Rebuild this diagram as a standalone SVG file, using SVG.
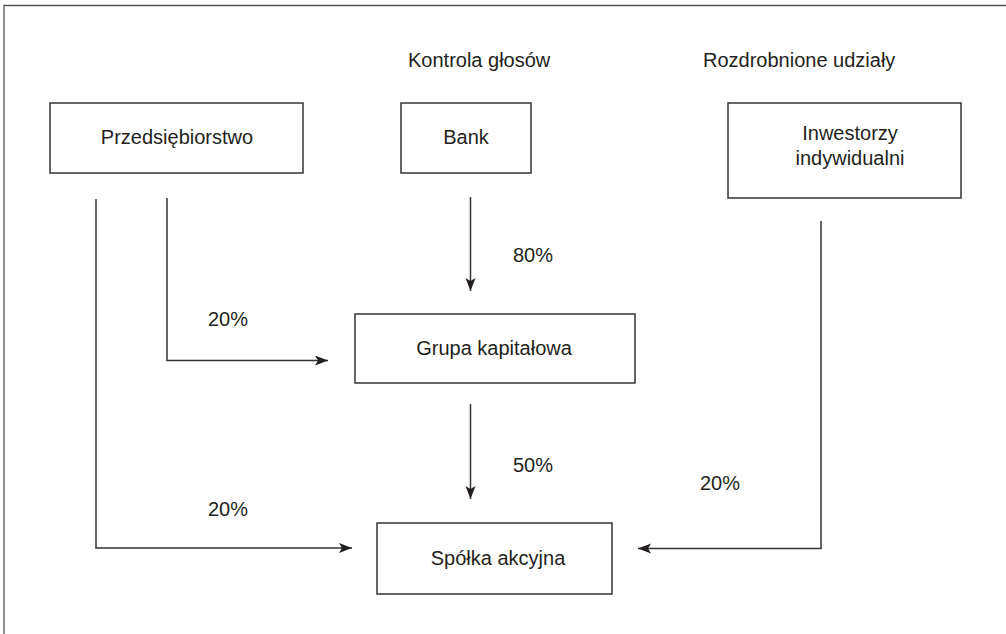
<svg xmlns="http://www.w3.org/2000/svg" width="1006" height="634" viewBox="0 0 1006 634">
<defs>
<style>
.box{fill:#fff;stroke:#333;stroke-width:1.5}
.t{font-family:"Liberation Sans",Arial,sans-serif;font-size:20px;fill:#231f20}
.m{text-anchor:middle}
.c{fill:none;stroke:#333;stroke-width:1.5}
.frame{fill:none;stroke:#555;stroke-width:1.3}
</style>
<marker id="ah" markerUnits="userSpaceOnUse" markerWidth="14" markerHeight="12" refX="13" refY="5" orient="auto">
<path d="M0,0 L13,5 L0,10 L3,5 z" fill="#231f20"/>
</marker>
</defs>
<rect width="1006" height="634" fill="#fff"/>
<path class="frame" d="M4,634 V5.5 H1006"/>
<g id="labels">
<text class="t" x="408" y="67">Kontrola głosów</text>
<text class="t" x="703" y="67">Rozdrobnione udziały</text>
</g>
<g id="przedsiebiorstwo">
<rect class="box" x="50" y="103" width="253" height="70"/>
<text class="t m" x="177" y="144">Przedsiębiorstwo</text>
</g>
<g id="bank">
<rect class="box" x="401" y="103" width="130" height="70"/>
<text class="t m" x="466" y="144">Bank</text>
</g>
<g id="inwestorzy">
<rect class="box" x="728" y="103" width="233" height="95"/>
<text class="t m" x="850" y="140">Inwestorzy</text>
<text class="t m" x="850" y="165">indywidualni</text>
</g>
<g id="grupa">
<rect class="box" x="355" y="314" width="280" height="69"/>
<text class="t m" x="494" y="355">Grupa kapitałowa</text>
</g>
<g id="spolka">
<rect class="box" x="377" y="523" width="235" height="71"/>
<text class="t m" x="498" y="565">Spółka akcyjna</text>
</g>
<g id="connectors">
<path class="c" d="M96,199 V548 H352" marker-end="url(#ah)"/>
<path class="c" d="M167,198 V360.5 H328" marker-end="url(#ah)"/>
<path class="c" d="M470.5,197 V291" marker-end="url(#ah)"/>
<path class="c" d="M470.5,404 V499" marker-end="url(#ah)"/>
<path class="c" d="M821,221 V548.5 H638" marker-end="url(#ah)"/>
<text class="t" x="513" y="262">80%</text>
<text class="t" x="208" y="326">20%</text>
<text class="t" x="513" y="472">50%</text>
<text class="t" x="700" y="490">20%</text>
<text class="t" x="208" y="516">20%</text>
</g>
</svg>
